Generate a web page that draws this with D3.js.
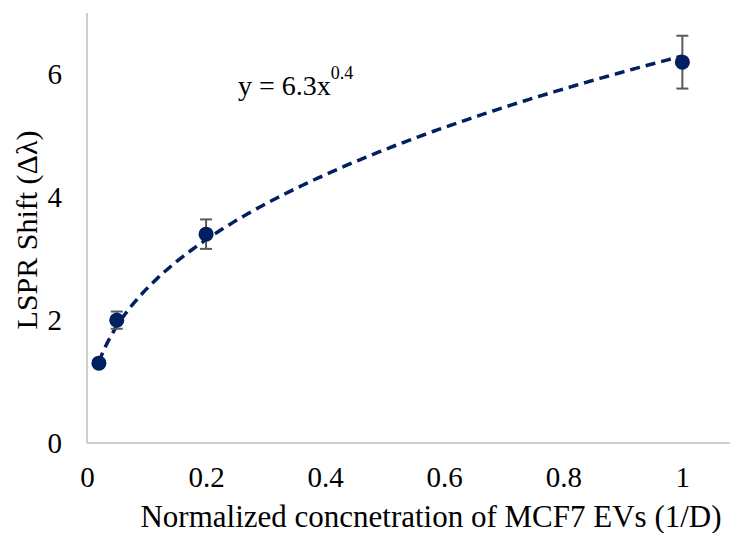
<!DOCTYPE html>
<html>
<head>
<meta charset="utf-8">
<script src="https://cdn.jsdelivr.net/npm/d3@7"></script>
<style>
  body { margin: 0; background: #fff; }
  svg { display: block; }
  text { font-family: "Liberation Serif", "Times New Roman", serif; fill: #000; }
</style>
</head>
<body>
<svg id="chart" width="732" height="533"></svg>
<script>
// Measured LSPR shift vs normalized MCF7 EV concentration
const concentrations = [0.02, 0.05, 0.2, 1];
const shifts = [1.3, 2.0, 3.4, 6.2];
const errors = [0.05, 0.14, 0.24, 0.43];
const xTicks = [0, 0.2, 0.4, 0.6, 0.8, 1];
const yTicks = [0, 2, 4, 6];
// Power-law fit: y = a * x^b
const fitA = 6.3;
const fitB = 0.4;

const svg = d3.select("#chart");
const margin = { left: 87, top: 13, right: 2, bottom: 90 };
const width = 732, height = 533;

const x = d3.scaleLinear().domain([0, 1.08]).range([margin.left, width - margin.right]);
const y = d3.scaleLinear().domain([0, 7]).range([height - margin.bottom, margin.top]);

const axisColor = "#bfbfbf";
const navy = "#002060";
const serif = "Liberation Serif";

// Axis lines
svg.append("line")
  .attr("x1", x(0)).attr("x2", x(1.08))
  .attr("y1", y(0)).attr("y2", y(0))
  .attr("stroke", axisColor).attr("stroke-width", 1.5);
svg.append("line")
  .attr("x1", x(0)).attr("x2", x(0))
  .attr("y1", y(0)).attr("y2", y(7))
  .attr("stroke", axisColor).attr("stroke-width", 1.5);

// Tick labels
const xAxis = svg.append("g")
  .attr("transform", `translate(0,${y(0)})`)
  .call(d3.axisBottom(x).tickValues(xTicks).tickSize(0).tickPadding(23).tickFormat(d3.format("")));
xAxis.select(".domain").remove();
xAxis.selectAll("text").style("font-size", "29px").style("font-family", serif);

const yAxis = svg.append("g")
  .attr("transform", `translate(${x(0)},0)`)
  .call(d3.axisLeft(y).tickValues(yTicks).tickSize(0).tickPadding(25).tickFormat(d3.format("")));
yAxis.select(".domain").remove();
yAxis.selectAll("text").style("font-size", "29px").style("font-family", serif);

// Axis titles
svg.append("text")
  .attr("x", 431).attr("y", 527)
  .attr("text-anchor", "middle")
  .style("font-size", "31px")
  .style("font-family", serif)
  .text("Normalized concnetration of MCF7 EVs (1/D)");
svg.append("text")
  .attr("transform", `translate(37,230) rotate(-90)`)
  .attr("text-anchor", "middle")
  .style("font-size", "30px")
  .style("font-family", serif)
  .text("LSPR Shift (Δλ)");

// Trendline
const fitPts = d3.range(0, 201).map(i => {
  const xv = 0.02 + (1 - 0.02) * i / 200;
  return [xv, fitA * Math.pow(xv, fitB)];
});
svg.append("path")
  .datum(fitPts)
  .attr("fill", "none")
  .attr("stroke", navy)
  .attr("stroke-width", 3.5)
  .attr("stroke-dasharray", "10,6")
  .attr("d", d3.line().x(d => x(d[0])).y(d => y(d[1])));

// Error bars
const data = concentrations.map((c, i) => ({ c, s: shifts[i], e: errors[i] }));
const eb = svg.append("g").attr("stroke", "#595959").attr("stroke-width", 2);
data.forEach(d => {
  eb.append("line").attr("x1", x(d.c)).attr("x2", x(d.c))
    .attr("y1", y(d.s - d.e)).attr("y2", y(d.s + d.e));
  [d.s - d.e, d.s + d.e].forEach(v => {
    eb.append("line").attr("x1", x(d.c) - 6).attr("x2", x(d.c) + 6)
      .attr("y1", y(v)).attr("y2", y(v));
  });
});

// Markers
svg.append("g").selectAll("circle")
  .data(data)
  .join("circle")
  .attr("cx", d => x(d.c))
  .attr("cy", d => y(d.s))
  .attr("r", 7.5)
  .attr("fill", navy);

// Fit equation
const eq = svg.append("text")
  .attr("x", 238).attr("y", 95)
  .style("font-size", "28px")
  .style("font-family", serif);
eq.append("tspan").text(`y = ${fitA}x`);
eq.append("tspan").attr("dy", -16).style("font-size", "18px").text(fitB);
</script>
</body>
</html>
